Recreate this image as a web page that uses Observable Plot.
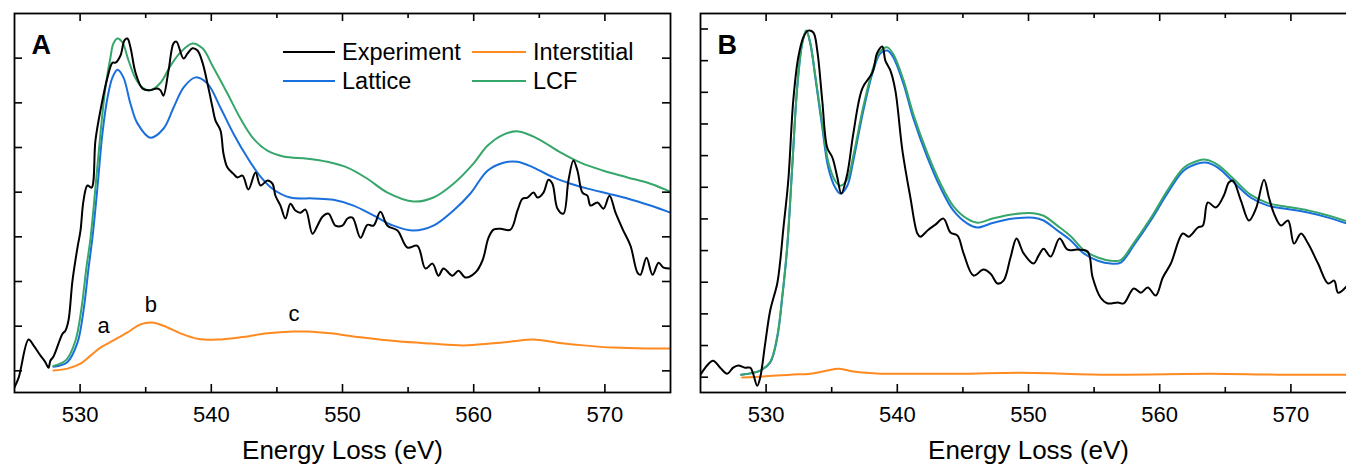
<!DOCTYPE html>
<html>
<head>
<meta charset="utf-8">
<script src="https://cdn.jsdelivr.net/npm/d3@7"></script>
<script src="https://cdn.jsdelivr.net/npm/@observablehq/plot@0.6"></script>
<style>
  html, body { margin: 0; padding: 0; background: #fff; }
  #wrap { position: relative; width: 1346px; height: 467px; overflow: hidden; font-family: "Liberation Sans", Arial, sans-serif; }
  #wrap > svg, #wrap > div { position: absolute; top: 0; }
</style>
</head>
<body>
<div id="wrap"></div>
<script>
// ---------------- Series / legend ----------------
const seriesNames  = ["Experiment", "Lattice", "Interstitial", "LCF"];
const seriesColors = ["#000000", "#1a6fdc", "#ff8a1f", "#36a66b"];

// ---------------- Axis ticks ----------------
const xMajorTicks = [530, 540, 550, 560, 570];
const xMinorTicks = [535, 545, 555, 565];
const xTickLabels = ["530", "540", "550", "560", "570"];
const yTicksA = [0, 10, 20, 30, 40, 50, 60, 70];
const yTicksB = [0, 10, 20, 30, 40, 50, 60, 70, 80, 90, 100, 110];
const axisTitle = "Energy Loss (eV)";
const panelLabels = ["A", "B"];

// ---------------- Panel A data (energy eV, intensity a.u.) ----------------
const aExperimentE = [525.0,525.33,526.07,526.45,526.98,527.36,527.59,527.74,527.97,528.66,528.88,529.11,529.42,529.80,
  530.03,530.26,530.56,530.87,531.17,531.55,532.09,532.47,532.70,533.08,533.38,533.61,533.84,534.22,534.75,535.21,
  535.90,536.13,536.35,536.74,537.12,537.34,537.88,538.18,538.56,538.95,539.33,539.71,540.09,540.32,540.70,540.93,
  541.23,541.69,541.99,542.38,542.83,543.37,543.75,544.28,544.66,544.89,545.27,545.65,546.03,546.41,546.80,547.18,
  547.71,548.09,548.47,548.93,549.46,549.99,550.38,550.76,551.37,551.90,552.36,552.89,553.43,554.19,554.95,555.71,
  556.32,556.86,557.31,557.70,558.38,558.84,559.37,560.13,560.67,561.13,561.51,562.04,562.80,563.34,563.72,564.10,
  564.56,564.86,565.32,565.70,566.00,566.39,566.84,567.22,567.60,567.91,568.29,568.67,568.90,569.43,569.89,570.35,
  570.81,571.34,571.95,572.48,572.71,573.17,573.63,574.09,574.47,575.0];
const aExperimentI = [-3.7,-1.4,7.0,5.7,3.4,1.9,0.7,2.3,3.2,8.3,9.0,11.2,20.2,27.6,
  31.4,38.1,41.5,41.0,51.6,58.3,65.7,69.0,69.0,70.6,74.0,74.4,72.4,66.8,63.2,62.8,
  63.2,62.8,61.6,67.2,73.3,73.7,69.9,71.0,72.2,71.7,69.0,64.3,59.0,56.0,53.8,48.6,
  45.5,44.1,43.3,43.7,40.6,44.4,41.5,42.6,41.9,39.2,37.0,34.1,37.4,35.9,35.4,36.1,
  30.7,32.5,34.5,35.2,32.5,32.5,34.1,34.3,29.8,32.7,32.5,35.6,32.5,31.4,27.6,28.0,
  22.9,24.0,21.3,22.9,21.3,22.4,20.9,22.0,24.7,29.8,31.6,31.8,31.6,35.9,38.5,38.8,
  39.9,38.8,39.9,42.8,41.9,36.3,35.2,42.6,47.1,44.8,39.9,39.2,37.0,37.7,36.3,39.2,
  35.4,31.8,28.0,22.0,21.5,25.3,21.5,24.2,23.1,22.9];

const aLatticeE = [527.97,529.04,529.80,530.26,530.64,530.94,531.32,531.70,532.09,532.47,532.85,533.30,533.84,534.37,
  535.36,536.35,537.12,537.88,538.79,539.71,540.70,541.69,542.76,543.75,544.74,546.03,547.79,549.31,550.84,552.36,
  553.88,555.41,556.93,558.46,559.75,561.05,562.27,563.34,564.56,566.08,567.38,568.67,570.20,571.72,573.47,575.0];
const aLatticeI = [0.9,2.0,6.3,13.5,22.9,29.8,41.0,53.1,61.2,65.7,67.4,65.7,59.8,55.4,
  52.2,54.2,58.9,63.4,65.7,64.3,58.9,53.1,47.7,43.5,40.6,38.8,38.6,38.3,37.0,34.8,
  32.5,31.4,32.5,35.9,39.7,44.8,46.6,46.8,45.5,43.3,41.9,40.8,39.7,38.6,37.0,35.4];

const aInterstitialE = [527.97,529.04,530.03,530.79,531.55,532.54,533.61,534.60,535.52,536.35,537.65,538.95,540.47,
  542.22,544.28,546.26,547.33,549.08,551.37,554.19,556.71,559.22,561.28,563.03,564.56,566.39,568.37,570.66,573.24,575.0];
const aInterstitialI = [0.1,0.5,1.6,3.4,5.2,6.8,8.6,10.4,10.8,10.1,8.4,7.2,7.0,
  7.5,8.4,8.8,8.8,8.4,7.5,6.6,6.1,5.7,6.1,6.6,7.0,6.3,5.7,5.2,5.0,5.0];

const aLcfE = [527.97,528.96,529.65,530.10,530.48,530.79,531.17,531.55,531.93,532.31,532.54,532.85,533.23,533.69,
  534.22,534.75,535.36,536.13,536.89,537.65,538.56,539.33,540.16,541.23,542.22,543.21,544.28,545.50,547.33,548.85,
  550.38,551.90,553.43,555.41,556.93,558.46,559.98,561.05,562.27,563.41,564.86,566.61,568.14,569.89,571.72,573.47,575.0];
const aLcfI = [1.1,2.5,6.8,13.9,23.1,29.6,41.0,53.1,63.4,70.1,73.3,74.4,73.5,69.5,
  65.5,63.4,62.8,64.5,68.3,71.3,73.3,72.2,67.9,62.1,56.5,52.0,49.3,48.0,47.5,46.8,
  45.5,43.0,39.9,37.9,38.8,41.9,46.4,50.4,52.9,53.6,52.0,48.9,46.6,44.8,43.3,41.9,40.1];

const annLabels = ["a", "b", "c"];
const annE = [531.8, 535.4, 546.3];
const annI = [8.4, 13.1, 11.1];

// ---------------- Panel B data ----------------
const bExperimentE = [525.0,525.50,525.96,526.50,527.03,527.49,527.87,528.40,528.79,529.01,
  529.32,529.55,529.93,530.31,530.85,531.08,531.30,531.69,532.07,532.45,
  532.83,533.21,533.60,533.90,534.28,534.66,535.05,535.43,535.73,536.19,
  536.65,537.33,538.10,538.48,538.86,539.09,539.47,539.85,540.39,541.00,
  541.53,541.76,542.37,542.91,543.52,544.05,544.59,545.05,545.81,546.57,
  547.11,547.64,548.10,548.63,549.09,549.63,550.39,550.77,551.15,551.69,
  552.37,552.98,553.75,554.51,554.89,555.50,556.04,556.80,557.26,558.02,
  558.56,559.09,559.70,560.24,560.85,561.76,562.22,562.91,563.29,563.67,
  564.28,564.89,565.27,565.58,566.19,566.80,567.34,567.95,568.33,568.71,
  569.25,569.78,570.24,570.77,571.31,572.07,572.84,573.30,573.60,574.29];
const bExperimentI = [0.8,3.7,5.2,3.0,1.1,3.0,3.7,3.0,3.0,1.1,
  -2.7,-0.1,10.6,21.0,29.6,36.8,46.3,62.1,87.4,101.0,
  107.3,109.5,108.9,103.2,87.4,72.5,69.4,63.1,58.0,64.3,
  77.0,91.2,96.2,102.6,104.5,100.0,96.9,90.6,71.6,56.7,
  45.4,44.4,46.6,48.2,50.1,45.7,44.7,39.1,32.1,34.0,
  32.7,29.6,30.5,37.8,43.8,39.1,35.9,38.4,40.6,38.1,
  43.8,40.3,40.3,39.7,31.5,25.1,23.3,23.6,23.3,28.0,
  26.7,28.3,25.8,31.5,35.9,45.4,44.4,47.3,47.9,55.2,
  53.6,57.4,61.5,62.1,55.8,49.5,53.3,62.4,56.7,51.7,
  47.9,49.5,42.2,45.4,42.2,35.9,29.6,30.5,26.7,28.9];

const bFitE = [528.10,529.55,530.31,530.85,531.23,531.61,531.99,532.37,532.75,533.06,
  533.37,533.75,534.28,534.74,535.27,535.66,536.19,536.65,537.41,538.17,
  538.71,539.24,539.70,540.46,541.23,542.30,543.29,544.28,545.35,546.11,
  547.33,548.86,550.39,551.15,552.22,553.22,554.21,555.28,556.27,557.03,
  558.02,559.32,560.62,561.84,562.91,563.52,564.43,565.66,566.95,568.25,
  569.47,571.31,572.84,574.29];
const bLatticeI = [0.8,2.1,4.6,12.5,25.1,41.0,66.2,91.5,105.4,109.5,
  105.4,94.7,78.9,66.2,59.9,58.0,60.5,68.4,84.2,96.9,
  102.3,103.2,101.0,92.8,81.7,69.4,59.9,52.6,48.5,47.3,
  48.8,50.1,50.4,49.5,46.3,43.2,39.1,36.8,35.9,36.2,
  41.6,49.5,58.3,65.3,67.5,67.8,66.2,61.5,56.7,54.2,
  53.3,52.0,50.4,48.5];
const bLcfI = [0.8,2.1,4.8,13.0,25.5,41.5,66.5,91.5,105.4,109.5,
  105.5,95.3,80.0,68.0,62.0,60.5,62.5,70.0,85.5,97.8,
  103.0,104.2,102.0,94.0,83.0,70.7,61.2,54.0,50.0,48.8,
  50.2,51.5,51.8,51.0,47.8,44.5,40.2,37.8,36.8,37.0,
  42.4,50.3,59.2,66.2,68.4,68.7,67.1,62.5,57.6,55.0,
  54.0,52.7,51.1,49.2];

const bInterstitialE = [528.17,529.78,531.84,533.37,534.66,535.50,536.65,538.71,541.23,545.05,549.40,556.27,563.90,569.02,574.29];
const bInterstitialI = [-0.1,0.2,0.8,1.1,2.1,2.7,1.8,1.1,1.1,1.1,1.4,0.8,1.1,0.8,0.8];

// ---------------- Build ----------------
const zip = (E, I) => E.map((e, k) => ({e, i: I[k]}));
const FONT = "'Liberation Sans', Arial, Helvetica, sans-serif";

function makePanel({width, marginLeft, marginRight, yDomain, yTicks, curves, label, annotations}) {
  const height = 467, marginTop = 13, marginBottom = 75;
  const plotW = width - marginLeft - marginRight;
  const plotH = height - marginTop - marginBottom;
  const marks = [];
  for (const c of curves) {
    marks.push(Plot.line(c.data, {x: "e", y: "i", stroke: c.color, strokeWidth: 2, curve: "catmull-rom", clip: true}));
  }
  marks.push(
    Plot.frame({stroke: "black", strokeWidth: 1.8}),
    Plot.tickX(xMajorTicks, {x: d => d, insetTop: plotH - 8, stroke: "black", strokeWidth: 1.6}),
    Plot.tickX(xMajorTicks, {x: d => d, insetBottom: plotH - 8, stroke: "black", strokeWidth: 1.6}),
    Plot.tickX(xMinorTicks, {x: d => d, insetTop: plotH - 5, stroke: "black", strokeWidth: 1.6}),
    Plot.tickX(xMinorTicks, {x: d => d, insetBottom: plotH - 5, stroke: "black", strokeWidth: 1.6}),
    Plot.tickY(yTicks, {y: d => d, insetRight: plotW - 8, stroke: "black", strokeWidth: 1.6}),
    Plot.tickY(yTicks, {y: d => d, insetLeft: plotW - 8, stroke: "black", strokeWidth: 1.6}),
    Plot.text(xMajorTicks, {x: d => d, text: (d, k) => xTickLabels[k], frameAnchor: "bottom", dy: 14, lineAnchor: "top", fontSize: 22, fill: "black"}),
    Plot.text([axisTitle], {frameAnchor: "bottom", dy: 58, lineAnchor: "middle", fontSize: 26, fill: "black"}),
    Plot.text([label], {frameAnchor: "top-left", textAnchor: "start", dx: 17, dy: 21, lineAnchor: "top", fontSize: 27, fontWeight: "bold", fill: "black"})
  );
  if (annotations) {
    marks.push(Plot.text(annotations, {x: "e", y: "i", text: "t", lineAnchor: "bottom", fontSize: 22, fill: "black"}));
  }
  return Plot.plot({
    width, height, marginTop, marginBottom, marginLeft, marginRight,
    x: {domain: [525, 575], axis: null},
    y: {domain: yDomain, axis: null},
    style: {fontFamily: FONT, background: "white", overflow: "visible"},
    marks
  });
}

const wrap = document.getElementById("wrap");

const panelA = makePanel({
  width: 685, marginLeft: 14, marginRight: 15,
  yDomain: [-4.85, 80.0], yTicks: yTicksA, label: panelLabels[0],
  curves: [
    {data: zip(aInterstitialE, aInterstitialI), color: seriesColors[2]},
    {data: zip(aLatticeE, aLatticeI), color: seriesColors[1]},
    {data: zip(aLcfE, aLcfI), color: seriesColors[3]},
    {data: zip(aExperimentE, aExperimentI), color: seriesColors[0]}
  ],
  annotations: annLabels.map((t, k) => ({t, e: annE[k], i: annI[k]}))
});
panelA.style.left = "0px";
wrap.appendChild(panelA);

const panelB = makePanel({
  width: 671, marginLeft: 15, marginRight: 0,
  yDomain: [-4.84, 114.9], yTicks: yTicksB, label: panelLabels[1],
  curves: [
    {data: zip(bInterstitialE, bInterstitialI), color: seriesColors[2]},
    {data: zip(bFitE, bLatticeI), color: seriesColors[1]},
    {data: zip(bFitE, bLcfI), color: seriesColors[3]},
    {data: zip(bExperimentE, bExperimentI), color: seriesColors[0]}
  ]
});
panelB.style.left = "685px";
wrap.appendChild(panelB);

// ---------------- Legend (panel A) ----------------
const legendOrder = [0, 2, 1, 3]; // Experiment, Interstitial / Lattice, LCF
const leg = d3.select(wrap).append("svg")
  .attr("width", 420).attr("height", 80)
  .style("position", "absolute").style("left", "270px").style("top", "30px")
  .style("font-family", FONT);
legendOrder.forEach((s, k) => {
  const col = k % 2, row = Math.floor(k / 2);
  const x0 = col === 0 ? 13 : 202;
  const len = col === 0 ? 52 : 54;
  const yc = 22 + row * 29;
  leg.append("line").attr("x1", x0).attr("x2", x0 + len).attr("y1", yc).attr("y2", yc)
    .attr("stroke", seriesColors[s]).attr("stroke-width", 2);
  leg.append("text").attr("x", x0 + len + 7).attr("y", yc + 8)
    .attr("font-size", 23.5).attr("fill", "black").text(seriesNames[s]);
});
</script>
</body>
</html>
